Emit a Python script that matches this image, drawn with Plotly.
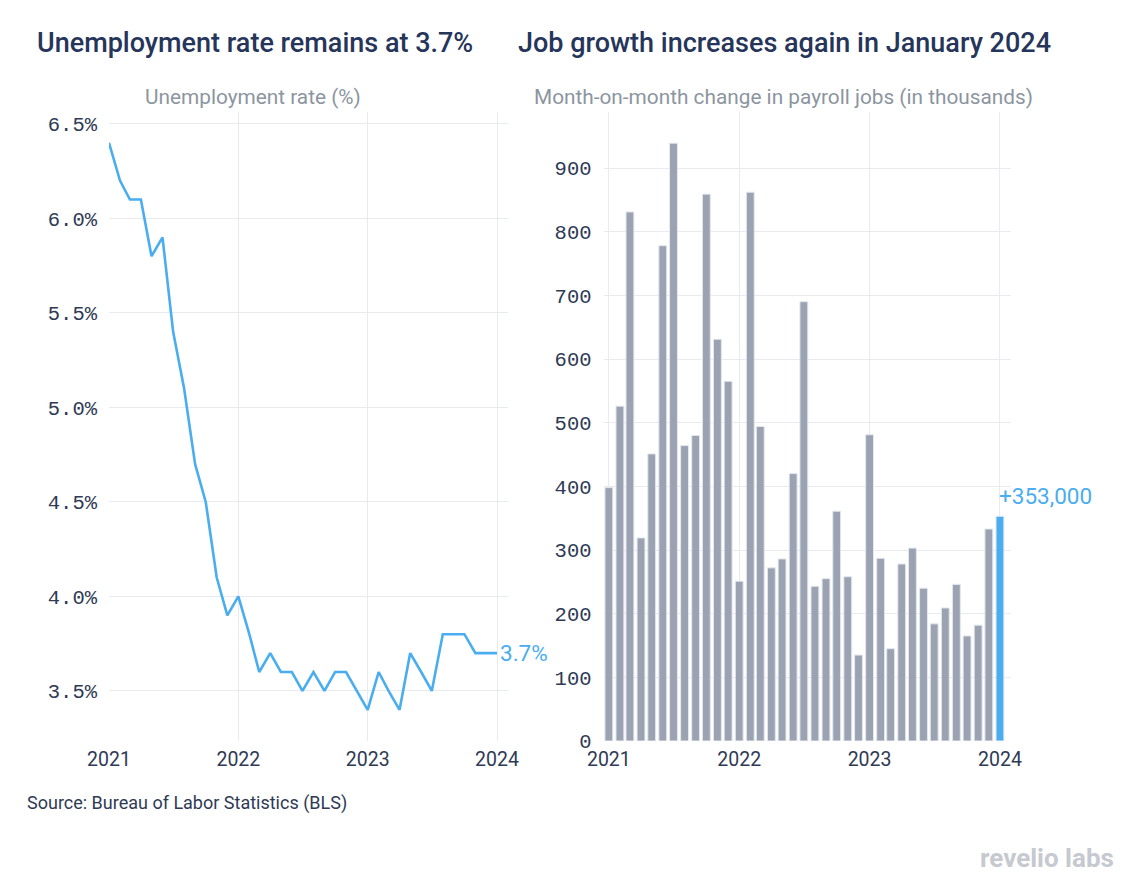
import plotly.graph_objects as go

# ---- data ----
months = [f"{y}-{m:02d}-01" for y in (2021, 2022, 2023) for m in range(1, 13)] + ["2024-01-01"]

unemployment_rate = [
    6.4, 6.2, 6.1, 6.1, 5.8, 5.9, 5.4, 5.1, 4.7, 4.5, 4.1, 3.9,
    4.0, 3.8, 3.6, 3.7, 3.6, 3.6, 3.5, 3.6, 3.5, 3.6, 3.6, 3.5,
    3.4, 3.6, 3.5, 3.4, 3.7, 3.6, 3.5, 3.8, 3.8, 3.8, 3.7, 3.7,
    3.7,
]

payroll_change = [
    398, 526, 831, 319, 451, 778, 939, 464, 480, 859, 631, 565,
    251, 862, 494, 272, 286, 420, 690, 243, 255, 361, 258, 135,
    481, 287, 145, 278, 303, 240, 184, 209, 246, 165, 182, 333,
    353,
]

year_ticks = ["2021-01-01", "2022-01-01", "2023-01-01", "2024-01-01"]
year_labels = ["2021", "2022", "2023", "2024"]

rate_ticks = [3.5, 4.0, 4.5, 5.0, 5.5, 6.0, 6.5]
rate_labels = ["3.5%", "4.0%", "4.5%", "5.0%", "5.5%", "6.0%", "6.5%"]
jobs_ticks = [0, 100, 200, 300, 400, 500, 600, 700, 800, 900]

# ---- styles ----
W, H = 1137, 889
BLUE = "#4AADF0"
GREY_BAR = "#9BA3B2"
TITLE_C = "#26355A"
SUB_C = "#8C959F"
TICK_C = "#2F3A55"
GRID_C = "#E9EAEF"

def px_x(p):
    return p / W

def px_y(p):
    return 1 - p / H

bar_colors = [GREY_BAR] * (len(payroll_change) - 1) + [BLUE]

fig = go.Figure()

fig.add_trace(go.Scatter(
    x=months, y=unemployment_rate, mode="lines",
    line=dict(color=BLUE, width=2.6),
    xaxis="x", yaxis="y", hoverinfo="x+y", showlegend=False,
))

fig.add_trace(go.Bar(
    x=months, y=payroll_change,
    marker=dict(color=bar_colors, line=dict(color="#E4E7EE", width=1)),
    width=22 * 86400000,
    xaxis="x2", yaxis="y2", showlegend=False,
))

mono = "Liberation Mono"
sans = "Roboto"

ydom = [px_y(741), px_y(112)]

common = dict(showgrid=True, gridcolor=GRID_C, gridwidth=1.3,
              zeroline=False, showline=False, ticks="", automargin=False)

fig.update_layout(
    width=W, height=H,
    margin=dict(l=0, r=0, t=0, b=0, autoexpand=False),
    paper_bgcolor="white", plot_bgcolor="white",
    xaxis=dict(
        domain=[px_x(109), px_x(508)], type="date",
        range=["2021-01-01", "2024-02-01"],
        tickvals=year_ticks, ticktext=year_labels,
        tickfont=dict(family=sans, size=19.5, color=TICK_C),
        ticklabelstandoff=4, anchor="y", **common,
    ),
    yaxis=dict(
        domain=ydom, range=[3.235, 6.563],
        tickvals=rate_ticks, ticktext=rate_labels,
        tickfont=dict(family=mono, size=20.5, color=TICK_C),
        ticklabelstandoff=11, anchor="x", **common,
    ),
    xaxis2=dict(
        domain=[px_x(603.5), px_x(1011)], type="date",
        range=["2020-12-17", "2024-02-01"],
        tickvals=year_ticks, ticktext=year_labels,
        tickfont=dict(family=sans, size=19.5, color=TICK_C),
        ticklabelstandoff=4, anchor="y2", **common,
    ),
    yaxis2=dict(
        domain=ydom, range=[0, 988],
        tickvals=jobs_ticks,
        tickfont=dict(family=mono, size=20.5, color=TICK_C),
        ticklabelstandoff=11, anchor="x2", **common,
    ),
)

P = dict(xref="paper", yref="paper", showarrow=False)
annotations = [
    dict(text="Unemployment rate remains at 3.7%", x=px_x(35), y=px_y(43),
         xanchor="left", yanchor="middle", **P,
         font=dict(family=sans, size=27, color=TITLE_C, weight=500)),
    dict(text="Job growth increases again in January 2024", x=px_x(516), y=px_y(43),
         xanchor="left", yanchor="middle", **P,
         font=dict(family=sans, size=27, color=TITLE_C, weight=500)),
    dict(text="Unemployment rate (%)", x=px_x(253), y=px_y(97),
         xanchor="center", yanchor="middle", **P,
         font=dict(family=sans, size=20.8, color=SUB_C)),
    dict(text="Month-on-month change in payroll jobs (in thousands)", x=px_x(783), y=px_y(97),
         xanchor="center", yanchor="middle", **P,
         font=dict(family=sans, size=20.8, color=SUB_C)),
    dict(text="Source: Bureau of Labor Statistics (BLS)", x=px_x(25), y=px_y(803),
         xanchor="left", yanchor="middle", **P,
         font=dict(family=sans, size=18, color=TICK_C)),
    dict(text="revelio labs", x=px_x(1116), y=px_y(858),
         xanchor="right", yanchor="middle", **P,
         font=dict(family=sans, size=26, color="#C6C9CF", weight="bold")),
    dict(text=f"{unemployment_rate[-1]:.1f}%", x=months[-1], y=unemployment_rate[-1],
         xref="x", yref="y", xanchor="left", yanchor="middle", xshift=1,
         showarrow=False, font=dict(family=sans, size=22.5, color=BLUE)),
    dict(text=f"+{payroll_change[-1]*1000:,}", x=months[-1], y=payroll_change[-1],
         xref="x2", yref="y2", xanchor="left", yanchor="bottom", xshift=-3, yshift=5,
         showarrow=False, font=dict(family=sans, size=22.5, color=BLUE)),
]
fig.update_layout(annotations=annotations)

fig.write_html("out.html", config={"displayModeBar": False},
               post_script="document.body.style.margin='0px';")
